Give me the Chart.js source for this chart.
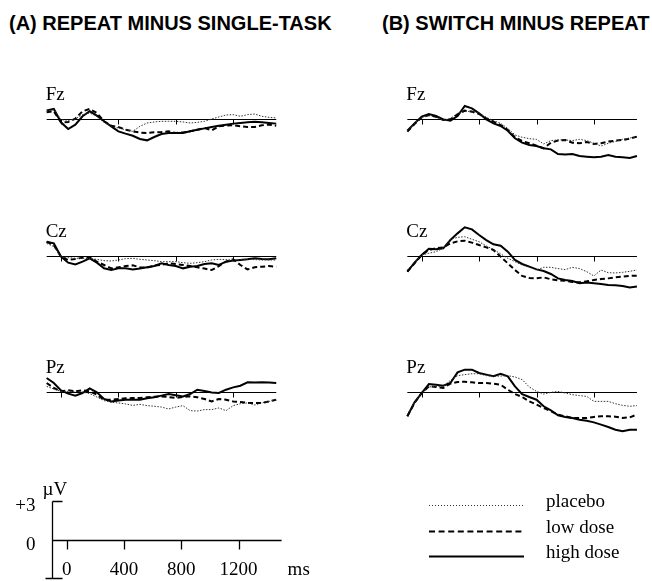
<!DOCTYPE html>
<html><head><meta charset="utf-8">
<script src="https://cdn.jsdelivr.net/npm/chart.js@4.4.1/dist/chart.umd.min.js"></script>
<style>
html,body{margin:0;padding:0;background:#fff;}
body{width:652px;height:581px;position:relative;overflow:hidden;}
.title{position:absolute;font-family:"Liberation Sans",Arial,sans-serif;font-weight:bold;font-size:20px;line-height:20px;white-space:nowrap;color:#000;}
canvas{position:absolute;}
</style></head><body>
<div class="title" style="left:9px;top:13px">(A) REPEAT MINUS SINGLE-TASK</div>
<div class="title" style="left:382px;top:13px">(B) SWITCH MINUS REPEAT</div>
<canvas id="pAFz" width="245" height="100" style="left:40px;top:69px"></canvas>
<canvas id="pBFz" width="245" height="100" style="left:400px;top:69px"></canvas>
<canvas id="pACz" width="245" height="100" style="left:40px;top:206px"></canvas>
<canvas id="pBCz" width="245" height="100" style="left:400px;top:206px"></canvas>
<canvas id="pAPz" width="245" height="100" style="left:40px;top:342px"></canvas>
<canvas id="pBPz" width="245" height="100" style="left:400px;top:342px"></canvas>
<canvas id="bottom" width="652" height="111" style="left:0px;top:470px"></canvas>
<script>
// ---- data (µV, positive up) ----
const timesMs = [-100,-50,0,50,100,150,200,250,300,350,400,450,500,550,600,650,700,750,800,850,900,950,1000,1050,1100,1150,1200,1250,1300,1350,1400,1450,1500];
const panelTicksMs = [0,400,800,1200];
const scaleTicksMs = [0,400,800,1200];
const scaleTickLabels = ['0','400','800','1200'];
const scaleYValues = [3,0];
const scaleYLabels = ['+3','0'];
const seriesNames = ['placebo','low dose','high dose'];
const electrodes = ['Fz','Cz','Pz'];

// (A) repeat minus single-task
const fzA_placebo = [0.60,0.73,-0.05,-0.10,0,0.34,0.47,0.21,-0.26,-0.57,-0.70,-0.83,-0.96,-0.57,-0.31,-0.23,-0.18,-0.18,-0.18,-0.23,-0.31,-0.26,-0.18,0,0.16,0.31,0.34,0.21,0.34,0.39,0.21,0.13,0.08];
const fzA_low = [0.52,0.60,-0.26,-0.23,0.03,0.60,0.78,0.47,-0.18,-0.52,-0.62,-0.83,-0.96,-1.06,-1.09,-1.04,-1.01,-0.96,-1.09,-1.04,-0.96,-0.83,-0.70,-0.88,-0.57,-0.52,-0.49,-0.57,-0.62,-0.62,-0.49,-0.44,-0.52];
const fzA_high = [0.67,0.78,-0.26,-0.78,-0.44,0.21,0.60,0.26,-0.18,-0.57,-0.96,-1.14,-1.30,-1.55,-1.66,-1.40,-1.17,-1.09,-1.09,-1.09,-0.96,-0.83,-0.73,-0.62,-0.52,-0.44,-0.36,-0.31,-0.26,-0.21,-0.26,-0.31,-0.36];
const czA_placebo = [0.98,0.73,-0.05,-0.13,-0.18,-0.18,-0.18,-0.26,-0.36,-0.39,-0.31,-0.21,-0.18,-0.26,-0.31,-0.36,-0.44,-0.44,-0.44,-0.52,-0.57,-0.52,-0.44,-0.31,-0.26,-0.28,-0.31,-0.28,-0.26,-0.28,-0.31,-0.31,-0.31];
const czA_low = [1.11,0.85,-0.05,-0.31,-0.23,-0.13,-0.10,-0.44,-0.70,-0.96,-0.88,-0.78,-0.73,-0.88,-0.91,-0.75,-0.70,-0.57,-0.62,-0.70,-0.78,-0.88,-0.98,-1.09,-0.78,-0.44,-0.26,-0.70,-1.04,-0.88,-0.83,-0.78,-0.83];
const czA_high = [1.11,0.98,-0.05,-0.52,-0.65,-0.44,-0.18,-0.52,-0.96,-1.09,-0.96,-0.96,-1.04,-0.98,-0.88,-0.78,-0.57,-0.70,-0.78,-0.96,-0.83,-0.78,-0.62,-0.57,-0.70,-0.44,-0.36,-0.31,-0.26,-0.18,-0.23,-0.26,-0.18];
const pzA_placebo = [0.44,0.23,0.05,0.05,0.05,0,-0.13,-0.39,-0.67,-0.80,-0.85,-0.93,-1.04,-0.96,-1.06,-1.11,-1.17,-1.32,-1.17,-1.06,-1.45,-1.48,-1.37,-1.37,-1.24,-1.45,-1.06,-0.91,-0.85,-1.01,-0.85,-0.73,-0.60];
const pzA_low = [0.70,0.31,0.05,0.13,0.05,0.13,0.05,-0.21,-0.60,-0.60,-0.54,-0.49,-0.47,-0.47,-0.41,-0.36,-0.34,-0.39,-0.47,-0.39,-0.34,-0.41,-0.54,-0.73,-0.54,-0.60,-0.73,-0.78,-0.85,-0.85,-0.85,-0.73,-0.60];
const pzA_high = [1.09,0.70,0.13,-0.13,-0.28,-0.08,0.28,-0.03,-0.54,-0.73,-0.67,-0.60,-0.60,-0.60,-0.49,-0.41,-0.28,-0.16,-0.26,-0.34,-0.16,0.18,0.08,-0.03,-0.08,0.18,0.36,0.49,0.75,0.73,0.75,0.73,0.70];

// (B) switch minus repeat
const fzB_placebo = [-0.91,-0.34,0.13,0.28,0.13,-0.08,0.03,0.44,0.57,0.62,0.44,0.13,-0.13,-0.34,-0.73,-1.24,-1.42,-1.53,-1.58,-1.94,-1.68,-1.63,-1.63,-1.68,-1.58,-1.68,-1.89,-2.10,-1.89,-1.74,-1.58,-1.48,-1.37];
const fzB_low = [-0.98,-0.39,0.13,0.31,0.18,-0.08,-0.03,0.36,0.65,0.57,0.39,0.05,-0.21,-0.47,-0.85,-1.42,-1.71,-1.89,-2.07,-2.28,-1.84,-1.68,-1.63,-1.84,-1.89,-1.79,-1.94,-1.89,-1.76,-1.68,-1.63,-1.53,-1.37];
const fzB_high = [-0.91,-0.34,0.18,0.39,0.23,-0.03,-0.13,0.23,1.01,0.83,0.44,-0.03,-0.34,-0.54,-0.91,-1.50,-1.84,-2.02,-2.10,-2.28,-2.36,-2.72,-2.77,-2.72,-2.88,-2.93,-2.98,-2.93,-2.80,-2.93,-2.98,-3.03,-2.88];
const czB_placebo = [-1.09,-0.52,0.08,0.21,0.34,0.60,1.30,1.45,1.50,1.30,1.11,0.78,0.52,0.16,-0.18,-0.44,-0.70,-0.88,-1.09,-0.88,-0.88,-0.98,-1.06,-0.88,-0.98,-1.22,-1.55,-1.09,-1.30,-1.32,-1.27,-1.19,-1.09];
const czB_low = [-1.22,-0.57,0.08,0.47,0.60,0.67,0.98,1.14,1.19,1.04,0.85,0.67,0.47,-0.05,-0.57,-1.09,-1.55,-1.71,-1.74,-1.66,-1.81,-1.89,-1.92,-2.02,-2.05,-1.97,-1.87,-1.79,-1.74,-1.66,-1.61,-1.55,-1.53];
const czB_high = [-1.22,-0.52,0.08,0.57,0.52,0.60,1.24,1.76,2.23,2.07,1.63,1.24,0.91,0.80,0.34,-0.31,-0.62,-0.83,-1.04,-1.17,-1.40,-1.74,-1.87,-1.94,-2.12,-2.07,-2.12,-2.18,-2.25,-2.28,-2.33,-2.44,-2.38];
const pzB_placebo = [-1.76,-0.80,-0.08,0.39,0.44,0.44,0.91,1.27,1.35,1.42,1.42,1.27,1.22,1.24,1.27,1.17,0.96,0.39,0.05,-0.16,-0.03,0.05,-0.08,-0.21,-0.28,-0.34,-0.73,-0.73,-0.73,-0.91,-1.04,-1.11,-1.06];
const pzB_low = [-1.89,-0.85,-0.08,0.44,0.39,0.31,0.65,0.78,0.80,0.75,0.70,0.70,0.65,0.57,0.18,-0.16,-0.39,-0.73,-0.98,-1.24,-1.50,-1.76,-1.89,-2.02,-2.02,-2.02,-1.94,-1.89,-1.89,-1.92,-2.02,-1.97,-1.76];
const pzB_high = [-1.89,-0.80,-0.08,0.62,0.57,0.49,0.70,1.53,1.74,1.74,1.48,1.35,1.22,1.42,1.22,0.44,-0.16,-0.39,-0.60,-1.11,-1.42,-1.81,-1.94,-2.02,-2.15,-2.23,-2.36,-2.54,-2.72,-2.93,-3.06,-2.93,-2.93];

// ---- styles ----
const lineStyles = [
  {borderWidth:1, borderDash:[1.5,1.5], borderColor:'#333'},
  {borderWidth:2, borderDash:[5,3], borderColor:'#000'},
  {borderWidth:2, borderDash:[], borderColor:'#000'}
];
const SERIF = '"Liberation Serif","Times New Roman",serif';

const panelDecor = {
  id:'panelDecor',
  beforeDatasetsDraw(chart, args, opts){
    const {ctx} = chart; const x = chart.scales.x, y = chart.scales.y;
    const y0 = Math.round(y.getPixelForValue(0)) + 0.5;
    ctx.save();
    ctx.strokeStyle = '#000'; ctx.lineWidth = 1; ctx.setLineDash([]);
    ctx.beginPath();
    ctx.moveTo(x.getPixelForValue(x.min), y0);
    ctx.lineTo(x.getPixelForValue(x.max), y0);
    panelTicksMs.forEach(t => {
      const px = Math.round(x.getPixelForValue(t)) + 0.5;
      ctx.moveTo(px, y0); ctx.lineTo(px, y0 + 5);
    });
    ctx.stroke();
    ctx.font = '19px ' + SERIF; ctx.fillStyle = '#000';
    ctx.textBaseline = 'alphabetic'; ctx.textAlign = 'left';
    ctx.fillText(opts.label, x.getPixelForValue(x.min) - 1, y0 - 20);
    ctx.restore();
  }
};

function pts(arr){ return timesMs.map((t,i)=>({x:t, y:arr[i]})); }

function makePanel(id, label, series, padLeft){
  new Chart(document.getElementById(id), {
    type:'line',
    data:{ datasets: series.map((s,i)=>Object.assign({label:seriesNames[i], data:pts(s), pointRadius:0, tension:0, fill:false, clip:false}, lineStyles[i])) },
    options:{
      responsive:false, animation:false, devicePixelRatio:1, events:[],
      layout:{padding:{left:padLeft, right:245 - padLeft - 229.6, top:5, bottom:5}},
      plugins:{legend:{display:false}, tooltip:{enabled:false}, panelDecor:{label:label}},
      scales:{
        x:{type:'linear', min:-100, max:1500, display:false},
        y:{type:'linear', min:-3.5, max:3.5, display:false}
      }
    },
    plugins:[panelDecor]
  });
}

makePanel('pAFz', electrodes[0], [fzA_placebo, fzA_low, fzA_high], 6.65);
makePanel('pACz', electrodes[1], [czA_placebo, czA_low, czA_high], 6.65);
makePanel('pAPz', electrodes[2], [pzA_placebo, pzA_low, pzA_high], 6.65);
makePanel('pBFz', electrodes[0], [fzB_placebo, fzB_low, fzB_high], 7.35);
makePanel('pBCz', electrodes[1], [czB_placebo, czB_low, czB_high], 7.35);
makePanel('pBPz', electrodes[2], [pzB_placebo, pzB_low, pzB_high], 7.35);

// ---- scale bar + legend ----
const bottomDecor = {
  id:'bottomDecor',
  afterDraw(chart){
    const {ctx} = chart; const x = chart.scales.x, y = chart.scales.y;
    const xl = Math.round(x.getPixelForValue(-100)) + 0.5;
    const yTop = Math.round(y.getPixelForValue(3)) + 0.5;
    const yBot = Math.round(y.getPixelForValue(-3)) + 0.5;
    const y0 = Math.round(y.getPixelForValue(0)) + 0.5;
    ctx.save();
    ctx.strokeStyle = '#000'; ctx.lineWidth = 1.3; ctx.setLineDash([]);
    ctx.beginPath();
    ctx.moveTo(xl, yTop); ctx.lineTo(xl, yBot);
    ctx.moveTo(xl, yTop); ctx.lineTo(xl + 10, yTop);
    ctx.moveTo(xl - 7, yBot); ctx.lineTo(xl + 10, yBot);
    ctx.moveTo(xl, y0); ctx.lineTo(x.getPixelForValue(1500), y0);
    scaleTicksMs.forEach(t => {
      const px = Math.round(x.getPixelForValue(t)) + 0.5;
      ctx.moveTo(px, y0); ctx.lineTo(px, y0 + 9);
    });
    ctx.stroke();
    ctx.fillStyle = '#000';
    ctx.font = '19px ' + SERIF;
    ctx.textBaseline = 'alphabetic';
    ctx.textAlign = 'center';
    scaleTicksMs.forEach((t,i) => ctx.fillText(scaleTickLabels[i], x.getPixelForValue(t), y0 + 34));
    ctx.textAlign = 'left';
    ctx.fillText('ms', x.getPixelForValue(1500) + 6, y0 + 34);
    ctx.fillText('\u00B5V', xl - 10, yTop - 7);
    ctx.textAlign = 'right';
    scaleYValues.forEach((v,i) => ctx.fillText(scaleYLabels[i], xl - 17, y.getPixelForValue(v) + 10));
    // legend
    const legY = [35, 61, 86];
    const legDash = [[1,2],[6,3.6],[]];
    const legW = [1, 2, 2];
    seriesNames.forEach((name,i) => {
      ctx.beginPath();
      ctx.lineWidth = legW[i]; ctx.setLineDash(legDash[i]);
      ctx.strokeStyle = i === 0 ? '#333' : '#000';
      ctx.moveTo(429, legY[i] + 0.5); ctx.lineTo(524, legY[i] + 0.5);
      ctx.stroke();
      ctx.setLineDash([]);
      ctx.textAlign = 'left';
      ctx.fillText(name, 546, legY[i] + 2);
    });
    ctx.restore();
  }
};

new Chart(document.getElementById('bottom'), {
  type:'line',
  data:{ datasets: [] },
  options:{
    responsive:false, animation:false, devicePixelRatio:1, events:[],
    layout:{padding:{left:52.35, right:652 - 281.6, top:31, bottom:3}},
    plugins:{legend:{display:false}, tooltip:{enabled:false}},
    scales:{
      x:{type:'linear', min:-100, max:1500, display:false},
      y:{type:'linear', min:-3, max:3, display:false}
    }
  },
  plugins:[bottomDecor]
});
</script>
</body></html>
